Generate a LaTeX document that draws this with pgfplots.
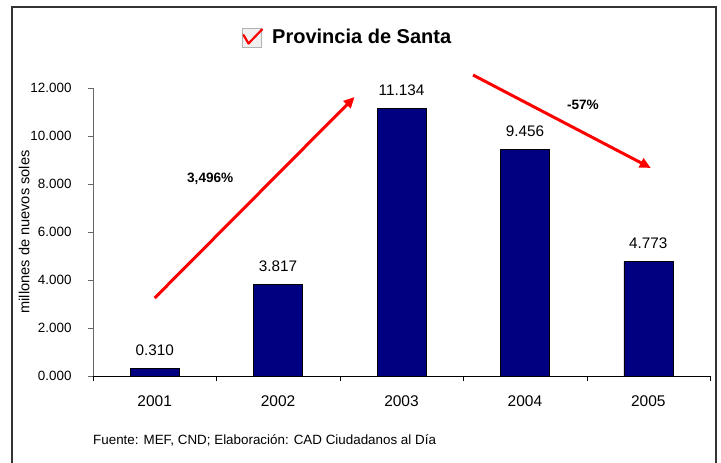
\documentclass[border=0pt]{standalone}
\usepackage{pgfplots}
\pgfplotsset{compat=1.18}
\usepackage{fontspec}
\setmainfont{Liberation Sans}
\usetikzlibrary{arrows.meta}
\definecolor{navybar}{RGB}{0,0,128}
\begin{document}
\begin{tikzpicture}[x=1pt,y=1pt]
\path[use as bounding box] (0,0) rectangle (721,463);
% frame
\draw[line width=2pt, black!80] (12,0) -- (12,7) |- (716,456) -- (716,0);
% title icon
\draw[gray!60, fill=gray!12, line width=1pt] (242,415) rectangle (261.5,434.5);
\draw[red, line width=2.2pt, line join=round, line cap=round] (243.5,428) -- (248.5,419.5) -- (262,433.5);
\node[anchor=base west, inner sep=0pt] at (272,419) {\fontsize{20}{22}\selectfont\bfseries Provincia de Santa};
% source
\node[anchor=base west, inner sep=0pt] at (93,18) {\fontsize{13.4}{15}\selectfont Fuente: MEF, CND; Elaboración: CAD Ciudadanos al Día};
\begin{axis}[
  at={(93pt,87pt)}, anchor=south west,
  scale only axis, width=617pt, height=288pt,
  xmin=-0.5, xmax=4.5, ymin=0, ymax=12,
  axis x line*=bottom, axis y line*=left,
  x axis line style={black, -}, y axis line style={gray!80!black, -},
  xtick={-0.5,0.5,1.5,2.5,3.5,4.5},
  x tick label as interval,
  xticklabels={2001,2002,2003,2004,2005},
  ytick={0,2,4,6,8,10,12},
  tick align=outside, major tick length=5pt,
  x tick style={black}, y tick style={gray!80!black},
  /pgf/number format/.cd, fixed, fixed zerofill, precision=3, assume math mode=true,
  /pgfplots/.cd,
  xticklabel style={font=\fontsize{15.5}{17}\selectfont, yshift=-11pt},
  yticklabel style={font=\fontsize{13.4}{15}\selectfont, xshift=-13pt},
  ylabel={millones de nuevos soles},
  ylabel style={font=\fontsize{14.6}{16}\selectfont, yshift=-6pt},
  ybar, bar width=49pt,
  nodes near coords,
  every node near coord/.append style={font=\fontsize{15.3}{17}\selectfont, yshift=9pt},
  clip=false,
]
\addplot[fill=navybar, draw=black, line width=0.6pt] coordinates {(0,0.310) (1,3.817) (2,11.134) (3,9.456) (4,4.773)};
\draw[red, line width=3pt, -{Triangle[length=11pt,width=10pt]}] (axis cs:0,3.25) -- (axis cs:1.62,11.625);
\draw[red, line width=3pt, -{Triangle[length=11pt,width=10pt]}] (axis cs:2.58,12.54) -- (axis cs:4.02,8.67);
\node[font=\fontsize{13.6}{15}\selectfont\bfseries] at (axis cs:0.45,8.2) {3,496\%};
\node[font=\fontsize{13.6}{15}\selectfont\bfseries] at (axis cs:3.47,11.3) {-57\%};
\end{axis}
\end{tikzpicture}
\end{document}
